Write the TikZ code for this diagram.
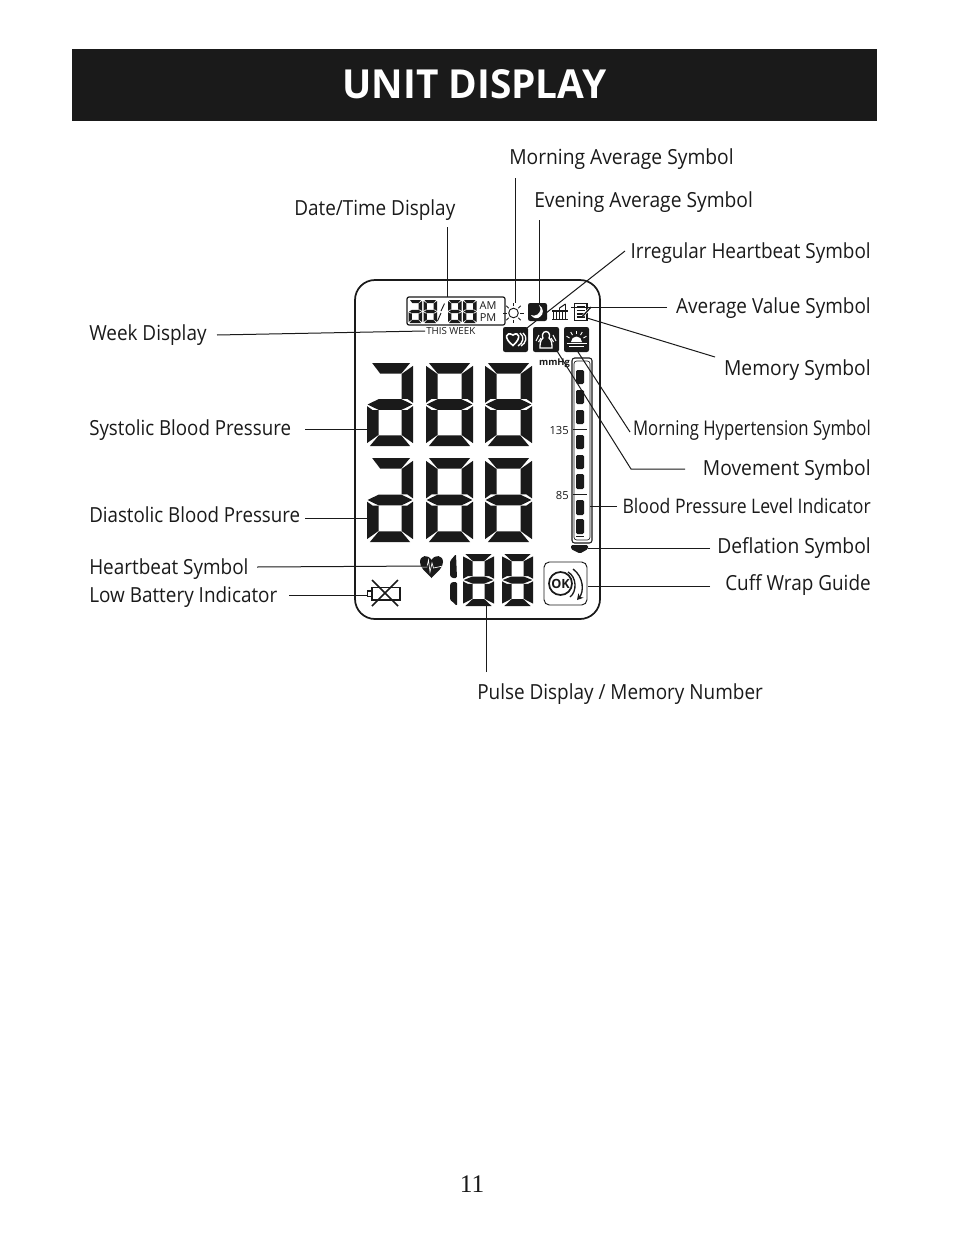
\documentclass[tikz,border=0pt]{standalone}
\usepackage{fontspec}
\usepackage{tikz}
\usetikzlibrary{arrows.meta}
\setmainfont{Open Sans}
\newfontfamily\labelfont[FakeStretch=.91]{Open Sans}
\newfontfamily\widefont[FakeStretch=.925]{Open Sans}
\newfontfamily\tightfont[FakeStretch=.90]{Open Sans}
\newfontfamily\narrowfont[FakeStretch=.825]{Open Sans}
\newfontfamily\levelfont[FakeStretch=.88]{Open Sans}
\newfontfamily\titlefont[FakeStretch=.97]{Open Sans}
\newfontfamily\pagefont{Liberation Serif}
\definecolor{ink}{HTML}{1A1A1A}

% one segment of a display digit; \dw \dh \dv \dt \dg \dc are set by \lcddigit
\def\sega{(\dg+\dc,0) -- (\dw-\dg-\dc,0) -- (\dw-\dv-\dg,\dt) -- (\dv+\dg,\dt) -- cycle}
\def\segs{(\dv*.45,0) -- (\dw-\dg-\dc,0) -- (\dw-\dv-\dg,\dt) -- (\dv*1.15,\dt) -- cycle}
\def\segb{(\dw,\dg+\dc) -- (\dw,\dh/2-\dg-\dc/2) -- (\dw-\dv/2,\dh/2-\dt/2-\dg) -- (\dw-\dv,\dh/2-\dt/2-\dg) -- (\dw-\dv,\dt+\dg) -- cycle}
\def\segc{(\dw,\dh/2+\dg+\dc/2) -- (\dw,\dh-\dg-\dc) -- (\dw-\dv,\dh-\dt-\dg) -- (\dw-\dv,\dh/2+\dt/2+\dg) -- (\dw-\dv/2,\dh/2+\dt/2+\dg) -- cycle}
\def\segd{(\dg+\dc,\dh) -- (\dw-\dg-\dc,\dh) -- (\dw-\dv-\dg,\dh-\dt) -- (\dv+\dg,\dh-\dt) -- cycle}
\def\sege{(0,\dh/2+\dg+\dc/2) -- (0,\dh-\dg-\dc) -- (\dv,\dh-\dt-\dg) -- (\dv,\dh/2+\dt/2+\dg) -- (\dv/2,\dh/2+\dt/2+\dg) -- cycle}
\def\segf{(0,\dg+\dc) -- (0,\dh/2-\dg-\dc/2) -- (\dv/2,\dh/2-\dt/2-\dg) -- (\dv,\dh/2-\dt/2-\dg) -- (\dv,\dt+\dg) -- cycle}
\def\segg{(\dg+.3,\dh/2) -- (\dv,\dh/2-\dt/2) -- (\dw-\dv,\dh/2-\dt/2) -- (\dw-\dg-.3,\dh/2) -- (\dw-\dv,\dh/2+\dt/2) -- (\dv,\dh/2+\dt/2) -- cycle}

% x, y, width, height, bar width, bar height, gap, segments
\newcommand{\lcddigit}[8]{
  \begin{scope}[shift={(#1,#2)}]
    \def\dw{#3}\def\dh{#4}\def\dv{#5}\def\dt{#6}\def\dg{#7}\def\dc{#5*.22}
    \foreach \sname in #8{
      \expandafter\fill\csname seg\sname\endcsname;
    }
  \end{scope}
}
\newcommand{\digitfull}{a,b,c,d,e,f,g}
\newcommand{\digittwo}{s,b,c,d,e,g}

\tikzset{
  toplbl/.style={font=\labelfont\fontsize{15.6}{18}\selectfont,anchor=base west,inner sep=0pt},
  leftlbl/.style={toplbl,font=\tightfont\fontsize{15.6}{18}\selectfont},
  rightlbl/.style={toplbl,anchor=base east},
  widelbl/.style={font=\widefont\fontsize{15.6}{18}\selectfont},
  narrowlbl/.style={font=\narrowfont\fontsize{15.2}{18}\selectfont,anchor=base east,inner sep=0pt},
  levellbl/.style={font=\levelfont\fontsize{15}{18}\selectfont,anchor=base east,inner sep=0pt},
  wire/.style={line width=.75pt},
  iconbox/.style={fill=ink,rounded corners=1.6pt},
  scalelbl/.style={font=\fontsize{8.4}{10}\selectfont,anchor=east,inner sep=0pt},
  amlbl/.style={font=\fontsize{8.2}{10}\selectfont,inner sep=0pt},
}

\begin{document}
\begin{tikzpicture}[x=.75pt,y=-.75pt,ink]
  \useasboundingbox (0,0) rectangle (954,1242);
  \fill[white] (0,0) rectangle (954,1242);

  % title bar
  \fill[ink] (72,49) rectangle (877,121);
  \node[white,font=\titlefont\bfseries\fontsize{30}{34}\selectfont,inner sep=0pt] (title) at (474.5,84) {UNIT DISPLAY};

  % display frame
  \draw[line width=1.3pt,rounded corners=15pt] (355,280) rectangle (600,619);

  % big digits
  \lcddigit{367}{363}{46}{83}{11.5}{10.7}{.35}{\digittwo}
  \lcddigit{426}{363}{47}{83}{11.5}{10.7}{.35}{\digitfull}
  \lcddigit{485}{363}{47}{83}{11.5}{10.7}{.35}{\digitfull}
  \lcddigit{367}{458}{46}{84}{11.5}{10.7}{.35}{\digittwo}
  \lcddigit{426}{458}{47}{84}{11.5}{10.7}{.35}{\digitfull}
  \lcddigit{485}{458}{47}{84}{11.5}{10.7}{.35}{\digitfull}

  % pulse digits
  \lcddigit{463}{554}{31}{52}{9.5}{7}{.3}{\digitfull}
  \lcddigit{502}{554}{31}{52}{9.5}{7}{.3}{\digitfull}
  \fill[rounded corners=1pt] (450,561) -- (456,554) -- (457,578) -- (452,578) -- (450,576) -- cycle;
  \fill[rounded corners=1pt] (450,584) -- (452,582) -- (457,582) -- (457,606) -- (453,602) -- (450,600) -- cycle;

  % date box
  \draw[line width=.9pt,rounded corners=1.5pt] (407,297) rectangle (505,325);
  \lcddigit{408.5}{300}{13.5}{23}{3.4}{3.2}{.25}{\digittwo}
  \lcddigit{423.5}{300}{13.5}{23}{3.4}{3.2}{.25}{\digitfull}
  \lcddigit{448}{300}{13.5}{23}{3.4}{3.2}{.25}{\digitfull}
  \lcddigit{463}{300}{13.5}{23}{3.4}{3.2}{.25}{\digitfull}
  \draw[line width=.7pt] (444.5,303.5) -- (441,311);
  \draw[line width=.7pt] (441,313) -- (437.5,321);
  \node[amlbl] (am) at (488,305.5) {AM};
  \node[amlbl] (pm) at (488,317.5) {PM};
  \node[font=\fontsize{7.3}{8}\selectfont,anchor=west,inner sep=0pt] (thisweek) at (426,331) {THIS WEEK};

  % sun
  \coordinate (sun) at (513.5,313);
  \draw[line width=.7pt] (sun) circle (4.8);
  \foreach \ang in {0,45,...,315}{
    \draw[line width=.7pt] (sun) ++(\ang:6.8) -- ++(\ang:3.4);
  }

  % moon box
  \fill[iconbox] (528,303) rectangle (547,321);
  \fill[white] (539,305) .. controls (541.5,309) and (540.5,312) .. (537.5,314.5) .. controls (535,316) and (533,316) .. (531,315) .. controls (533,318.5) and (537,319) .. (540,317) .. controls (544,314) and (544,308) .. (539,305) -- cycle;

  % bars icon
  \draw[line width=.8pt] (552,319.5) -- (568,319.5);
  \foreach \barx/\bartop in {553.5/311,556.5/311,559.5/308,562.5/311,565.5/304}{
    \draw[line width=1pt] (\barx,319) -- (\barx,\bartop);
  }
  \draw[line width=.8pt] (552,311) -- (568,311);
  \draw[line width=.8pt] (559.5,308) -- (565.5,304);

  % memo icon
  \draw[line width=.9pt] (574.5,303.5) rectangle (587,320.5);
  \foreach \rowy in {307,310.5,314,317}{
    \draw[line width=.8pt] (576.5,\rowy) -- (585,\rowy);
  }
  \draw[line width=1.8pt,white] (583,316) -- (592,306);
  \draw[line width=1pt] (582,317) -- (591,307);

  % heart box
  \fill[iconbox] (503,327) rectangle (528,352);
  \draw[white,line width=1.2pt] (513,345.5) .. controls (503,338) and (506,331) .. (513,335) .. controls (519,331) and (522,338) .. (513,345.5) -- cycle;
  \draw[white,line width=1pt] (520,333) .. controls (525,337) and (523,343) .. (518,346);
  \draw[white,line width=1pt] (523,333) .. controls (528,337) and (526,343) .. (521,346);

  % movement box
  \fill[iconbox] (533,327) rectangle (559,352);
  \draw[white,line width=1pt] (546,331.5) .. controls (542,331.5) and (542,337) .. (543,338) .. controls (540,340) and (540,345) .. (540,348) -- (552,348) .. controls (552,345) and (552,340) .. (549,338) .. controls (550,337) and (550,331.5) .. (546,331.5) -- cycle;
  \draw[white,line width=.8pt] (539,335) -- (536,341);
  \draw[white,line width=.8pt] (541,338) -- (538.5,342);
  \draw[white,line width=.8pt] (553,335) -- (556,341);
  \draw[white,line width=.8pt] (551,338) -- (553.5,342);

  % sunrise box
  \fill[iconbox] (564,327) rectangle (589,352);
  \fill[white] (571,342) arc[start angle=180,end angle=360,radius=5.5] -- cycle;
  \draw[white,line width=.9pt] (566.5,343.5) -- (586.5,343.5);
  \draw[white,line width=.8pt] (569,346.5) -- (584,346.5);
  \foreach \ang in {150,120,90,60,30}{
    \draw[white,line width=.7pt] (576.5,342) ++(-\ang:8) -- ++(-\ang:3.5);
  }

  % scale
  \node[font=\bfseries\fontsize{7}{8}\selectfont,inner sep=0pt] (mmhg) at (554.5,363.5) {mmHg};
  \node[scalelbl] (n135) at (569,430) {135};
  \node[scalelbl] (n85) at (569,495) {85};
  \draw[line width=.8pt,rounded corners=2pt] (572,358) rectangle (592,543);
  \draw[line width=.5pt,rounded corners=2pt] (574,367) -- (574,361) -- (590,361) -- (590,540) -- (574,540) -- (574,367);
  \foreach \segtop/\segbot in {370/384,390/404,410/424,435/449,455/469,474/489,500/515,519/534}{
    \fill[rounded corners=1pt] (576,\segtop) rectangle (584,\segbot);
  }
  \draw[line width=.7pt] (573,429) -- (587,429);
  \draw[line width=.7pt] (573,494) -- (587,494);
  \draw[line width=.7pt] (576,536.5) -- (584,536.5);
  \fill[rounded corners=1pt] (571,545) -- (588,545) -- (588,549) -- (580,553.5) -- (571,549) -- cycle;

  % heart symbol
  \fill (431.5,578) .. controls (425,571) and (420,568) .. (420,562) .. controls (420,555) and (428,554) .. (431.5,560) .. controls (435,554) and (443,555) .. (443,562) .. controls (443,568) and (438,571) .. (431.5,578) -- cycle;
  \draw[white,line width=.5pt] (420,567) -- (427,567) -- (428.5,560) -- (430,572) -- (432,563) -- (433.5,568) -- (443,566);

  % battery
  \draw[line width=1.1pt] (372,587.5) rectangle (400,600);
  \draw[line width=1.1pt] (372,591) -- (367.5,591) -- (367.5,596.5) -- (372,596.5);
  \draw[line width=1.1pt] (372,580) -- (398,606);
  \draw[line width=1.1pt] (398,580) -- (372,606);

  % ok button
  \draw[line width=.7pt,rounded corners=4pt] (544,562) rectangle (587,605);
  \draw[line width=1.3pt] (560.5,583.5) circle (11.5);
  \node[font=\bfseries\fontsize{9.5}{10}\selectfont,inner sep=0pt] (okmark) at (560.5,583.5) {OK};
  \draw[line width=1pt] (568,572) .. controls (577,577) and (577,592) .. (570,597);
  \draw[line width=1pt,-{Stealth[length=4.5pt,width=5pt]}] (573,569) .. controls (584,577) and (584,592) .. (577,600);

  % labels
  \node[toplbl,widelbl] (morning) at (509,164) {Morning Average Symbol};
  \node[toplbl,widelbl] (evening) at (534,207) {Evening Average Symbol};
  \node[toplbl] (datetime) at (294,215) {Date/Time Display};
  \node[rightlbl] (irregular) at (871,258) {Irregular Heartbeat Symbol};
  \node[rightlbl] (average) at (871,313) {Average Value Symbol};
  \node[rightlbl,widelbl] (memory) at (871,375) {Memory Symbol};
  \node[narrowlbl] (hypertension) at (871,435) {Morning Hypertension Symbol};
  \node[rightlbl,widelbl] (movement) at (871,475) {Movement Symbol};
  \node[levellbl] (level) at (871,513) {Blood Pressure Level Indicator};
  \node[rightlbl,widelbl] (deflation) at (871,553) {Deflation Symbol};
  \node[rightlbl] (cuff) at (871,590) {Cuff Wrap Guide};
  \node[toplbl] (week) at (89,340) {Week Display};
  \node[leftlbl] (systolic) at (89,435) {Systolic Blood Pressure};
  \node[leftlbl] (diastolic) at (89,522) {Diastolic Blood Pressure};
  \node[toplbl] (heartbeat) at (89,574) {Heartbeat Symbol};
  \node[toplbl] (battery) at (89,602) {Low Battery Indicator};
  \node[toplbl] (pulse) at (477,699) {Pulse Display / Memory Number};
  \node[font=\pagefont\fontsize{19}{22}\selectfont,inner sep=0pt] (pagenum) at (472,1184) {11};

  % connector ends
  \coordinate (morningtop) at (515,178);
  \coordinate (morningend) at (515,303);
  \coordinate (eveningtop) at (539,220);
  \coordinate (eveningend) at (539,303);
  \coordinate (datetop) at (447,227);
  \coordinate (dateend) at (447,297);
  \coordinate (irregularstart) at (625,251);
  \coordinate (irregularend) at (527,328);
  \coordinate (averagestart) at (667,307);
  \coordinate (averageend) at (571,307);
  \coordinate (memorystart) at (715,357);
  \coordinate (memoryend) at (587,318);
  \coordinate (hyperstart) at (630,432);
  \coordinate (hyperend) at (578,352);
  \coordinate (movestart) at (685,469);
  \coordinate (movebend) at (631,469);
  \coordinate (moveend) at (557,351);
  \coordinate (levelstart) at (617,506);
  \coordinate (levelend) at (590,506);
  \coordinate (deflatestart) at (710,548);
  \coordinate (deflateend) at (588,548);
  \coordinate (cuffstart) at (710,586);
  \coordinate (cuffend) at (588,586);
  \coordinate (pulsestart) at (486,672);
  \coordinate (pulseend) at (486,606);
  \coordinate (weekstart) at (217,335);
  \coordinate (weekend) at (425,331);
  \coordinate (sysstart) at (305,429);
  \coordinate (sysend) at (367,429);
  \coordinate (diastart) at (305,518);
  \coordinate (diaend) at (367,518);
  \coordinate (heartstart) at (257,567);
  \coordinate (heartend) at (428,566);
  \coordinate (battstart) at (289,595);
  \coordinate (battend) at (368,595);

  % connectors
  \draw[wire] (morningtop) -- (morningend);
  \draw[wire] (eveningtop) -- (eveningend);
  \draw[wire] (datetop) -- (dateend);
  \draw[wire] (irregularstart) -- (irregularend);
  \draw[wire] (averagestart) -- (averageend);
  \draw[wire] (memorystart) -- (memoryend);
  \draw[wire] (hyperstart) -- (hyperend);
  \draw[wire] (movestart) -- (movebend) -- (moveend);
  \draw[wire] (levelstart) -- (levelend);
  \draw[wire] (deflatestart) -- (deflateend);
  \draw[wire] (cuffstart) -- (cuffend);
  \draw[wire] (pulsestart) -- (pulseend);
  \draw[wire] (weekstart) -- (weekend);
  \draw[wire] (sysstart) -- (sysend);
  \draw[wire] (diastart) -- (diaend);
  \draw[wire] (heartstart) -- (heartend);
  \draw[wire] (battstart) -- (battend);
\end{tikzpicture}
\end{document}
